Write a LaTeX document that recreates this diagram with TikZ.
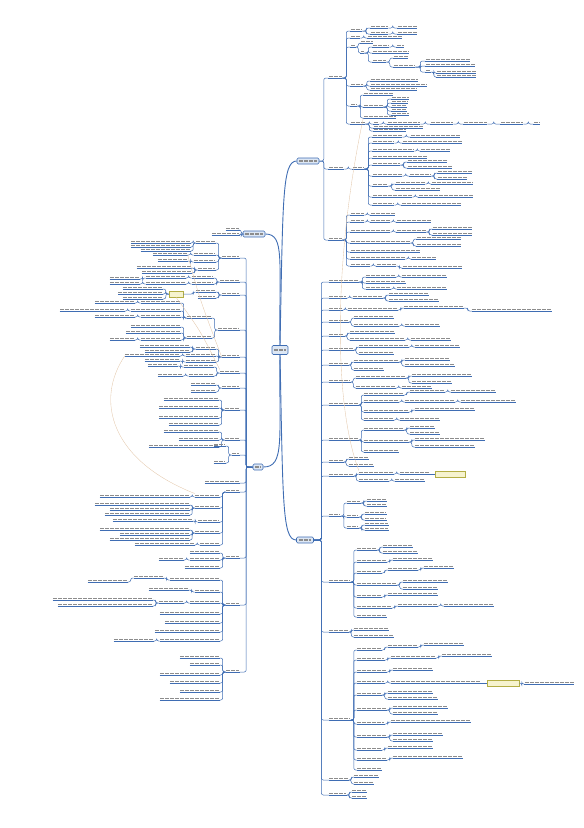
\documentclass[tikz,border=0pt]{standalone}
\usetikzlibrary{calc}

\definecolor{mapblue}{HTML}{3F6DB3}
\definecolor{mapfill}{HTML}{DDE7F4}
\definecolor{notefill}{HTML}{F6F3CF}
\definecolor{noteline}{HTML}{B3AE45}

% leaf growing to the right: name, parent, gap, y, width
\newcommand\rleaf[5]{%
  \path (#2-o) ++(#3pt,0pt) coordinate (tmp);
  \node[leaf, minimum width=#5pt, anchor=south west] (#1) at (tmp |- 0,#4) {};
  \coordinate (#1-o) at (#1.south east);
  \draw[twig] (#2-o) -- ++({0.5*#3pt},0pt) |- (#1.south west);
  \draw[twig] (#1.south west) -- (#1.south east);
  \draw[words] ([shift={(0.6pt,1.8pt)}]#1.south west) -- ([shift={(-0.6pt,1.8pt)}]#1.south east);
}
% leaf growing to the left
\newcommand\lleaf[5]{%
  \path (#2-o) ++(-#3pt,0pt) coordinate (tmp);
  \node[leaf, minimum width=#5pt, anchor=south east] (#1) at (tmp |- 0,#4) {};
  \coordinate (#1-o) at (#1.south west);
  \draw[twig] (#2-o) -- ++({-0.5*#3pt},0pt) |- (#1.south east);
  \draw[twig] (#1.south west) -- (#1.south east);
  \draw[words] ([shift={(0.6pt,1.8pt)}]#1.south west) -- ([shift={(-0.6pt,1.8pt)}]#1.south east);
}
\newcommand\topicbar[1]{\draw[words] ([xshift=2.5pt]#1.west) -- ([xshift=-2.5pt]#1.east);}

\begin{document}
\begin{tikzpicture}[x=1pt, y=-1pt,
    topic/.style={draw=mapblue, fill=mapfill, rounded corners=1.2pt, line width=0.6pt,
                  inner sep=0pt, minimum height=6pt},
    leaf/.style={inner sep=0pt, outer sep=0pt, minimum height=3.5pt},
    twig/.style={mapblue, line width=0.5pt, rounded corners=2pt},
    limb/.style={mapblue, line width=0.9pt},
    words/.style={black!45, line width=1.2pt, dash pattern=on 4pt off 1pt},
    note/.style={draw=noteline, fill=notefill, line width=0.5pt, inner sep=0pt, minimum height=6pt},
    rel/.style={brown!45, line width=0.35pt}]

    \useasboundingbox (0,0) rectangle (584,828);

    % ── Root and the four main topics ─────────────────────────────────────
    \node[topic, minimum width=16pt, minimum height=9pt] (root) at (280,350) {};
    \topicbar{root}

    \node[topic, minimum width=22pt] (R1) at (308,161) {};
    \node[topic, minimum width=17pt] (R2) at (305,540) {};
    \node[topic, minimum width=22pt] (L1) at (254,234) {};
    \node[topic, minimum width=10pt] (L2) at (258,467) {};
    \foreach \t in {R1,R2,L1,L2} {\topicbar{\t}}
    \coordinate (R1-o) at (R1.east);
    \coordinate (R2-o) at (R2.east);
    \coordinate (L1-o) at (L1.west);
    \coordinate (L2-o) at (L2.west);

    \draw[limb] (root.north) .. controls (283,200) and (282,161) .. (R1.west);
    \draw[limb] (root.south) .. controls (283,500) and (282,540) .. (R2.west);
    \draw[limb] (root.north) .. controls (279,260) and (285,234) .. (L1.east);
    \draw[limb] (root.south) .. controls (279,440) and (285,467) .. (L2.east);

    % ── Right side, upper topic ───────────────────────────────────────────
    \foreach \nm/\pa/\ga/\yy/\ww in {
        A/R1/9/78/14,
        a1/A/8/31/12, a11/a1/8/28/18, a12/a1/8/34/18, a111/a11/9/28/20, a121/a12/9/34/20,
        a2/A/8/38/10, a21/a2/7/38/35,
        a3/A/8/47/6, a31/a3/4/43/13, a32/a3/4/53/4,
        a321/a32/8/47/17, a3211/a321/7/47/8, a322/a32/8/53/37, a323/a32/8/62/14,
        a3231/a323/7/58/15, a3232/a323/7/67/22, a3233/a3232/10/61/45, a3234/a3232/10/66/50,
        a3235/a3232/10/72/6, a3236/a3235/5/73/40, a3237/a3235/5/77/40,
        a4/A/8/86/13, a41/a4/7/81/48, a42/a4/7/86/57, a43/a4/7/90/47,
        a5/A/8/106/7, a51/a5/6/95/30, a52/a5/6/107/20, a53/a5/6/118/33,
        a521/a52/8/99/18, a522/a52/8/103/17, a523/a52/8/107/16, a524/a52/8/111/16, a525/a52/8/115/18,
        a6/A/8/124/15, a61/a6/8/124/6, a62/a61/8/124/33, a63/a62/10/124/23, a64/a63/10/124/24,
        a65/a64/13/124/23, a66/a65/10/124/7, a67/a6/8/128/50, a68/a6/8/131/33,
        B/R1/9/169/16, B1/B/8/169/12,
        c1/B1/8/137/30, c11/c1/8/137/50, c2/B1/8/143/22, c21/c2/8/143/60,
        c3/B1/8/151/42, c31/c3/6/151/30, c4/B1/8/158/55,
        c5/B1/8/165/28, c51/c5/7/162/40, c52/c5/7/168/45,
        c6/B1/8/176/30, c61/c6/7/176/22, c611/c61/6/173/35, c612/c61/6/179/30,
        c7/B1/8/186/16, c71/c7/7/184/30, c711/c71/6/184/42, c72/c7/7/190/45,
        c8/B1/8/197/40, c81/c8/6/197/55, c9/B1/8/205/22, c91/c9/7/205/60,
        D/R1/9/240/14,
        d1/D/8/215/14, d11/d1/6/215/25, d2/D/8/222/14, d21/d2/6/222/20, d211/d21/6/222/35,
        d3/D/8/232/40, d31/d3/6/232/30, d311/d31/6/229/40, d312/d31/6/235/40,
        d4/D/8/243/60, d41/d4/6/239/45, d42/d4/6/246/45, d5/D/8/252/70,
        d6/D/8/259/55, d61/d6/6/259/25, d7/D/8/266/20, d71/d7/6/266/20, d711/d71/6/268/60}
      {\rleaf{\nm}{\pa}{\ga}{\yy}{\ww}}

    % ── Right side, lower topic ───────────────────────────────────────────
    \foreach \nm/\pa/\ga/\yy/\ww in {
        E1/R2/15/282/30, e11/E1/7/277/30, e111/e11/6/277/45, e12/E1/7/283/40, e13/E1/7/289/25, e131/e13/6/289/50,
        E2/R2/15/298/18, e21/E2/6/298/30, e211/e21/6/295/40, e212/e21/6/301/50,
        E3/R2/15/310/14, e31/E3/5/310/50, e311/e31/6/308/60, e3111/e311/8/311/80,
        E4/R2/15/322/20, e41/E4/5/318/40, e42/E4/5/326/45, e421/e42/6/326/35,
        E5/R2/15/336/16, e51/E5/5/333/45, e52/E5/5/340/55, e521/e52/6/340/40,
        E6/R2/15/350/25, e61/E6/5/347/50, e611/e61/6/347/45, e62/E6/5/354/35,
        E7/R2/15/365/20, e71/E7/5/362/45, e711/e71/6/360/45, e712/e71/6/366/50, e72/E7/5/370/30,
        E8/R2/15/382/22, e81/E8/5/378/50, e811/e81/6/376/60, e812/e81/6/383/40, e82/E8/5/388/40, e821/e82/6/388/30,
        E9/R2/15/405/30, e91/E9/5/395/40, e911/e91/6/392/35, e9111/e911/6/392/45,
        e92/E9/5/402/35, e921/e92/6/402/50, e9211/e921/6/402/55,
        e93/E9/5/412/45, e931/e93/6/410/60, e94/E9/5/420/30, e941/e94/6/420/40,
        E10/R2/15/440/30, e101/E10/5/430/40, e1011/e101/6/428/25, e1012/e101/6/434/30,
        e102/E10/5/442/45, e1021/e102/6/440/70, e1022/e102/6/447/60, e103/E10/5/452/35,
        E11/R2/15/462/15, e110/E11/5/459/20, e112/E11/5/466/25,
        E12/R2/15/476/25, e121/E12/5/474/35, e1211/e121/6/474/30, e122/E12/5/481/30, e1221/e122/6/481/30,
        E13/R2/15/516/12, n1/E13/6/503/14, n11/n1/6/501/20, n12/n1/6/506/20,
        n2/E13/6/517/12, n21/n2/6/514/22, n22/n2/6/520/22, n3/E13/6/528/12, n31/n3/6/525/24, n32/n3/6/530/24,
        E14/R2/15/582/22, q1/E14/6/550/20, q11/q1/6/547/30, q12/q1/6/553/35,
        q2/E14/6/562/30, q21/q2/6/560/40, q3/E14/6/573/25, q31/q3/6/570/30, q311/q31/6/568/30,
        q4/E14/6/585/40, q41/q4/6/582/45, q42/q4/6/589/35, q5/E14/6/597/25, q51/q5/6/595/50,
        q6/E14/6/608/35, q61/q6/6/606/40, q611/q61/6/606/50, q7/E14/6/617/30,
        E15/R2/15/632/20, r1/E15/5/630/35, r2/E15/5/637/40,
        E16/R2/15/720/22, s1/E16/6/650/25, s11/s1/6/647/30, s111/s11/6/645/40,
        s2/E16/6/660/28, s21/s2/6/658/45, s211/s21/6/656/50, s3/E16/6/672/30, s31/s3/6/670/40,
        s4/E16/6/683/28, s41/s4/6/683/90, s5/E16/6/695/25, s51/s5/6/693/45, s52/s5/6/699/50,
        s6/E16/6/710/30, s61/s6/6/708/55, s62/s6/6/714/45, s7/E16/6/724/28, s71/s7/6/722/80,
        s8/E16/6/737/30, s81/s8/6/735/50, s82/s8/6/741/40, s9/E16/6/750/25, s91/s9/6/748/45,
        s10/E16/6/760/30, s101/s10/6/758/70, s12/E16/6/770/25,
        E17/R2/15/780/20, t1/E17/5/777/25, t2/E17/5/784/20,
        E18/R2/15/795/18, u1/E18/5/792/15, u2/E18/5/798/15}
      {\rleaf{\nm}{\pa}{\ga}{\yy}{\ww}}

    % ── Left side ─────────────────────────────────────────────────────────
    \foreach \nm/\pa/\ga/\yy/\ww in {
        v1/L1/3/230/14, v2/L1/3/235/28,
        F1/L2/13/258/18, f11/F1/6/243/20, f111/f11/5/243/60, f112/f11/5/247/60, f113/f11/5/251/50,
        f12/F1/6/255/22, f121/f12/6/255/35, f13/F1/6/262/22, f131/f13/6/261/30,
        f14/F1/6/270/18, f141/f14/6/268/55, f142/f14/6/273/50,
        F2/L2/13/282/20, f21/F2/6/278/22, f211/f21/6/278/40, f2111/f211/6/279/30,
        f22/F2/6/284/22, f221/f22/6/284/40, f2211/f221/6/284/30,
        F3/L2/13/295/18, f31/F3/6/292/20, f32/F3/6/298/18,
        F4/L2/13/330/22, f41/F4/6/318/25, f411/f41/6/303/40, f4111/f411/6/303/40,
        f412/f41/6/311/50, f4121/f412/6/311/65, f413/f41/6/317/40, f4131/f413/6/317/40,
        f42/F4/6/338/25, f421/f42/6/327/50, f422/f42/6/333/55, f423/f42/6/340/40, f4231/f423/6/340/25,
        F5/L2/13/357/18, f51/F5/6/349/20, f511/f51/6/347/50, f512/f51/6/352/45,
        f52/F5/6/356/30, f521/f52/6/356/55, f53/F5/6/362/30, f531/f53/6/361/35,
        F6/L2/13/373/20, f61/F6/6/367/30, f611/f61/6/366/30, f62/F6/6/376/25, f621/f62/6/376/25,
        F7/L2/13/388/18, f71/F7/6/385/25, f72/F7/6/392/25,
        F8/L2/13/410/15, f81/F8/6/400/55, f82/F8/6/408/60, f83/F8/6/418/60, f84/F8/6/425/50,
        F9/L2/13/440/15, f91/F9/6/432/55, f92/F9/6/440/40, f93/F9/6/447/70,
        G1/L2/13/455/8, g11/G1/6/446/12, g12/G1/6/463/12,
        G2/L2/13/483/35,
        H1/L2/13/492/14, h1/H1/6/497/25, h11/h1/5/497/90, h2/H1/6/508/25, h21/h2/5/505/95,
        h22/h2/5/510/80, h23/h2/5/515/85, h3/H1/6/522/22, h31/h3/5/521/80,
        h4/H1/6/533/25, h41/h4/5/530/90, h42/h4/5/535/70, h43/h4/5/540/80, h5/H1/6/545/20, h51/h5/5/545/60,
        H2/L2/13/558/14, i1/H2/6/553/30, i2/H2/6/560/30, i21/i2/6/560/25, i3/H2/6/568/35,
        H3/L2/13/605/14, j1/H3/6/580/50, j11/j1/6/578/30, j111/j11/6/582/40,
        j2/H3/6/592/25, j21/j2/6/590/40, j3/H3/6/603/30, j31/j3/6/603/25,
        j311/j31/6/600/100, j312/j31/6/606/95, j4/H3/6/614/60, j5/H3/6/623/55,
        j6/H3/6/632/65, j7/H3/6/641/60, j71/j7/6/641/40,
        H4/L2/13/672/14, k1/H4/6/658/40, k2/H4/6/665/30, k3/H4/6/675/60,
        k4/H4/6/683/50, k5/H4/6/692/40, k6/H4/6/700/60}
      {\lleaf{\nm}{\pa}{\ga}{\yy}{\ww}}

    % ── Note boxes ────────────────────────────────────────────────────────
    \node[note, minimum width=14pt] (yb1) at (176,294) {};
    \coordinate (yb1-o) at (yb1.west);
    \draw[twig] (f31-o) -- ++(-2.5pt,0) |- (yb1.east);
    \foreach \nm/\yy/\ww in {y11/289/40, y12/294/45, y13/299/40}
      {\lleaf{\nm}{yb1}{6}{\yy}{\ww}}

    \node[note, minimum width=30pt] (yb2) at (450,474) {};
    \draw[twig] (e1211-o) -- (yb2.west);

    \node[note, minimum width=32pt] (yb3) at (503,683) {};
    \coordinate (yb3-o) at (yb3.east);
    \draw[twig] (s41-o) -- (yb3.west);
    \rleaf{s42}{yb3}{5}{684}{50}

    % ── Faint relation lines ──────────────────────────────────────────────
    \draw[rel] (a53.south west) .. controls (335,250) and (332,400) .. (e121.north west);
    \draw[rel] (f121.south east) .. controls (200,300) .. (F5.south west);
    \draw[rel] (f521.south west) .. controls (95,400) and (110,460) .. (h1.north west);
    \draw[rel] (yb1.south) .. controls (200,330) .. (F6.north west);

\end{tikzpicture}
\end{document}
